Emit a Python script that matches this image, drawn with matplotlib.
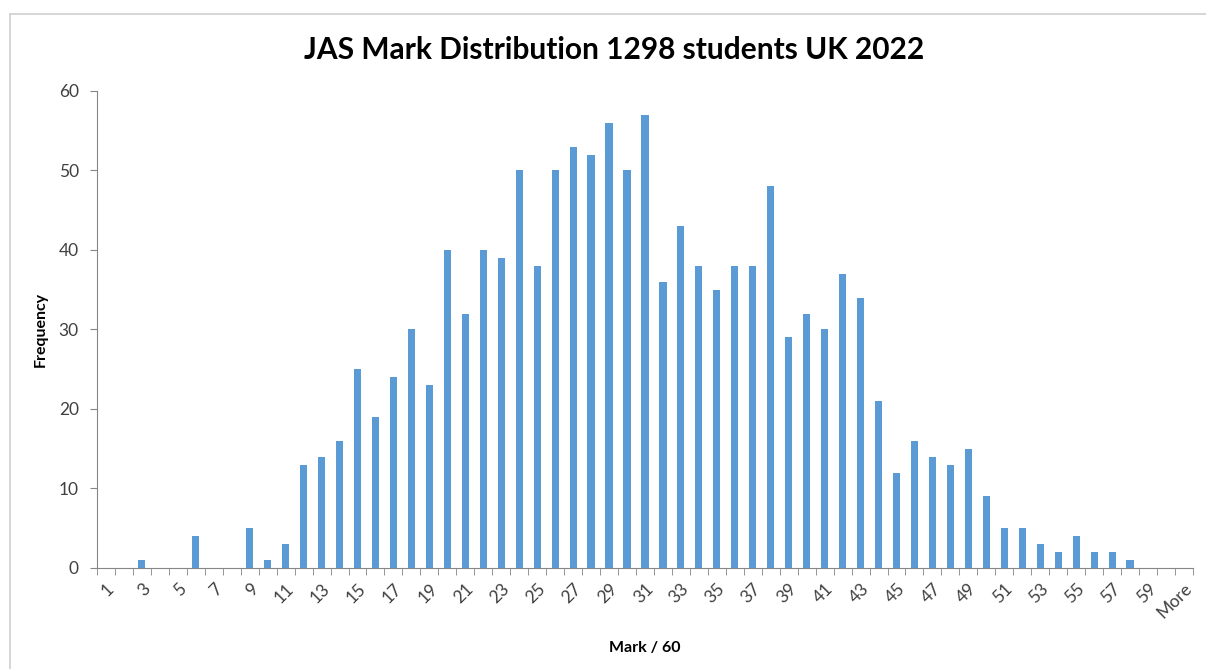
import matplotlib
matplotlib.use("Agg")
import matplotlib.pyplot as plt
from matplotlib.lines import Line2D

# marks 1..60 plus the overflow bin
categories = [str(i) for i in range(1, 61)] + ["More"]
frequency = [
    0, 0, 1, 0, 0, 4, 0, 0, 5, 1,
    3, 13, 14, 16, 25, 19, 24, 30, 23, 40,
    32, 40, 39, 50, 38, 50, 53, 52, 56, 50,
    57, 36, 43, 38, 35, 38, 38, 48, 29, 32,
    30, 37, 34, 21, 12, 16, 14, 13, 15, 9,
    5, 5, 3, 2, 4, 2, 2, 1, 0, 0,
    0,
]
tick_labels = [c if i % 2 == 0 else "" for i, c in enumerate(categories)]

plt.rcParams["font.family"] = ["Lato", "DejaVu Sans"]
axis_grey = "#868686"

fig = plt.figure(figsize=(12.06, 6.69), dpi=100)
ax = fig.add_axes([0.0804, 0.151, 0.9088, 0.713])

x = range(len(categories))
ax.bar(x, frequency, width=0.4, color="#5B9BD5")

ax.set_xlim(-0.5, len(categories) - 0.5)
ax.set_ylim(0, 60)
ax.set_yticks(range(0, 61, 10))

# labels at bar centres, tick marks between categories
ax.set_xticks(list(x))
ax.set_xticklabels(tick_labels, rotation=45, ha="right", rotation_mode="anchor")
ax.set_xticks([i - 0.5 for i in range(len(categories) + 1)], minor=True)
ax.tick_params(axis="x", which="major", length=0, pad=9, labelsize=12.5, labelcolor="#404040")
ax.tick_params(axis="x", which="minor", length=5, color=axis_grey, direction="out")
ax.tick_params(axis="y", length=5, color=axis_grey, labelsize=12.5, labelcolor="#404040", pad=8)

for side in ["top", "right"]:
    ax.spines[side].set_visible(False)
for side in ["left", "bottom"]:
    ax.spines[side].set_color(axis_grey)

ax.set_xlabel("Mark / 60", fontsize=11.5, fontweight="bold", labelpad=14)
ax.set_ylabel("Frequency", fontsize=11.5, fontweight="bold", labelpad=8)
fig.text(0.509, 0.925, "JAS Mark Distribution 1298 students UK 2022",
         ha="center", va="center", fontsize=21.5, fontweight="bold")

# chart-area border (only top and left visible in the crop)
fig.add_artist(Line2D([10 / 1206, 10 / 1206], [0, 1 - 14 / 669],
                      transform=fig.transFigure, color="#D0D0D0", lw=1.2))
fig.add_artist(Line2D([10 / 1206, 1], [1 - 14 / 669, 1 - 14 / 669],
                      transform=fig.transFigure, color="#D0D0D0", lw=1.2))

fig.savefig("out.png", dpi=100)
